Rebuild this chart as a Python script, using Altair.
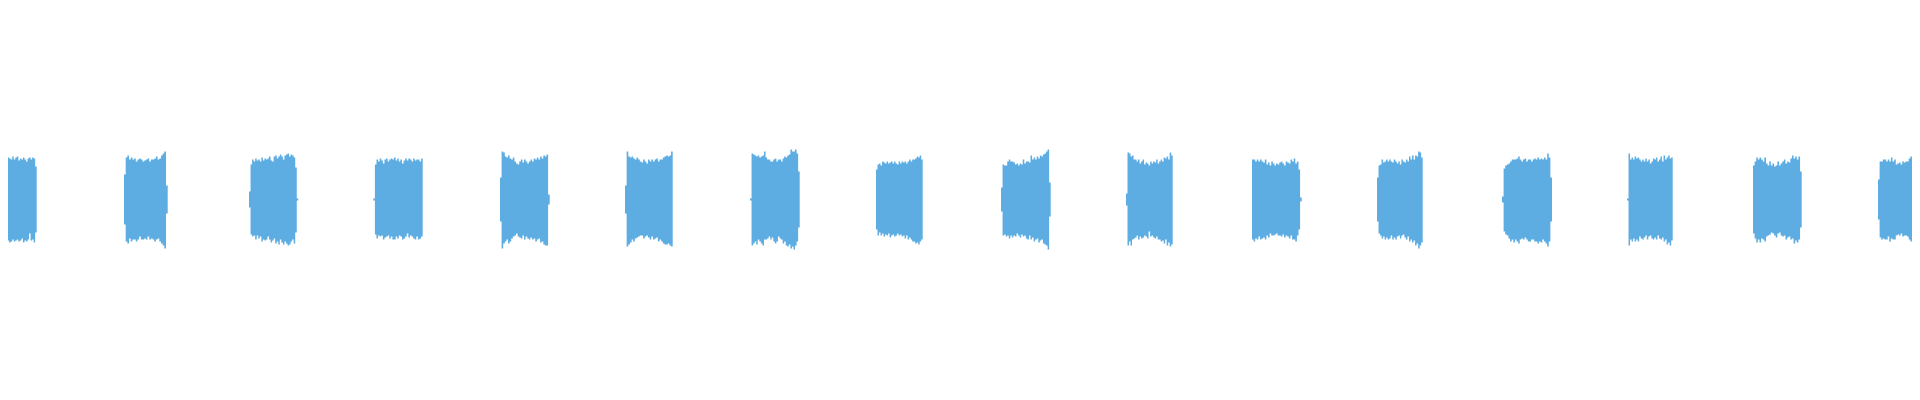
import altair as alt
import pandas as pd

# Burst start / end positions along the time axis (reference units)
starts = [0, 124, 249, 373.3, 500, 625, 750, 876, 1001, 1126, 1252, 1377, 1502, 1627, 1753, 1878]
ends = [36.7, 167.7, 298.3, 422.7, 549.7, 672.7, 799.7, 922.7, 1050.7, 1172.7, 1301.7, 1422.7, 1552, 1672.7, 1801.7, 1920]

# Upper envelope (positive peaks) per column, x0.01
top1 = [44,44,40,43,41,42,41,40,43,40,42,43,39,41,40,42,40,38,41,42,40,42,41,33]
top2 = [25,42,44,40,42,40,41,38,40,41,40,38,39,40,41,38,40,40,41,43,40,41,44,46,48,14]
top3 = [8,35,40,38,41,39,40,38,42,39,41,40,41,43,39,38,43,44,41,43,45,43,40,44,45,46,43,45,44,42,32,1]
top4 = [1,35,40,38,41,39,36,40,41,38,40,41,40,42,39,41,38,40,36,39,41,39,41,40,38,41,39,40,40,38,41]
top5 = [22,48,47,43,42,44,41,40,42,38,36,35,38,40,37,40,38,36,38,40,38,41,40,42,40,43,41,44,43,45,5]
top6 = [14,48,43,42,43,41,40,42,40,38,37,40,38,36,40,38,40,38,40,41,38,40,40,42,43,44,43,44,48]
top7 = [1,46,45,44,43,44,42,43,44,48,42,40,40,38,38,40,41,38,40,40,38,41,43,42,44,45,50,48,48,50,46,28]
top8 = [30,35,36,34,38,37,36,38,36,37,38,36,38,36,35,38,36,38,37,38,36,38,40,38,40,40,41,43,42,44,40]
top9 = [12,35,34,34,38,40,38,38,37,35,36,34,36,35,40,36,38,38,37,44,40,42,40,43,41,44,43,45,46,48,50,17]
top10 = [6,47,46,43,44,40,40,38,40,36,38,40,35,37,36,34,38,36,38,37,40,36,38,40,38,42,41,43,40,47,44]
top11 = [40,40,38,40,38,40,38,37,40,35,37,34,38,36,34,36,35,37,38,36,34,38,37,36,40,38,41,36,38,30,2]
top12 = [22,34,35,40,37,38,40,38,40,38,37,40,38,36,38,35,40,38,37,40,38,43,40,44,40,44,43,48,47,42]
top13 = [3,31,34,35,36,38,40,40,40,41,43,40,38,40,41,38,40,40,38,40,41,40,42,40,41,40,42,40,46,42,22]
top14 = [1,46,40,42,40,43,41,42,40,38,40,38,41,38,40,36,38,41,40,42,38,40,43,38,44,40,42,44,41,42]
top15 = [34,38,42,40,42,40,38,42,36,34,38,34,36,33,34,38,34,36,38,40,36,38,37,41,44,41,43,40,43,28]
top16 = [20,38,38,40,40,38,40,38,42,38,40,35,36,37,35,38,37,38,38,41,43,40,40,41,40,41]

# Lower envelope (negative peaks, magnitude) per column, x0.01
bot1 = [45,41,43,40,43,41,43,42,40,42,41,40,42,41,39,43,41,42,40,34,41,40,43,33]
bot2 = [25,42,44,39,42,40,40,42,40,37,40,40,39,40,37,40,39,40,42,40,39,42,44,46,49,14]
bot3 = [8,35,37,36,40,36,39,37,42,40,41,40,37,40,43,41,39,44,42,45,40,43,45,42,44,46,45,42,40,44,33,1]
bot4 = [1,35,39,36,37,36,40,38,37,36,39,37,40,40,37,39,36,37,40,39,37,34,38,36,37,39,40,37,40,39,37]
bot5 = [22,49,44,42,40,44,42,39,37,36,34,37,38,39,36,40,37,39,40,38,40,39,42,40,39,43,42,45,46,46,5]
bot6 = [14,47,45,43,40,42,39,38,37,36,36,39,37,36,38,40,37,40,39,38,42,40,42,44,45,45,44,46,47]
bot7 = [1,46,44,42,45,40,42,44,46,40,40,39,37,40,38,42,44,42,37,39,40,44,42,46,47,45,49,47,50,46,42,28]
bot8 = [30,36,33,36,34,37,35,36,34,38,36,35,37,36,34,36,35,37,36,39,36,40,38,40,42,42,44,43,45,42,40]
bot9 = [12,36,35,37,36,39,36,38,36,37,34,36,38,35,37,36,39,40,36,40,38,42,40,39,43,41,40,44,45,46,50,17]
bot10 = [6,46,42,46,40,39,38,36,40,37,39,38,36,37,39,32,37,36,38,39,37,40,40,42,41,44,40,46,43,47,45]
bot11 = [40,42,39,40,37,40,39,38,40,36,38,34,36,36,35,34,36,36,37,35,38,36,37,39,36,40,40,42,36,30,2]
bot12 = [22,34,36,39,37,40,38,40,39,36,40,38,40,37,36,39,36,35,38,40,37,42,40,43,41,46,44,49,46,43]
bot13 = [3,32,35,36,39,42,40,43,40,42,44,40,39,40,38,40,42,42,40,40,42,42,44,42,43,40,42,44,47,42,22]
bot14 = [1,46,40,42,39,42,40,42,37,39,40,38,36,40,37,36,39,40,38,40,36,39,40,38,42,40,45,43,46,41]
bot15 = [34,39,43,40,43,39,40,42,37,36,35,33,34,36,38,34,33,36,37,36,40,38,37,40,39,44,41,43,40,28]
bot16 = [20,38,40,39,40,40,37,42,39,40,40,36,35,36,34,37,36,36,37,40,42,40,38,40,40,42]

tops = [top1, top2, top3, top4, top5, top6, top7, top8,
        top9, top10, top11, top12, top13, top14, top15, top16]
bots = [bot1, bot2, bot3, bot4, bot5, bot6, bot7, bot8,
        bot9, bot10, bot11, bot12, bot13, bot14, bot15, bot16]

rows = []
for b, (s, e, tp, bt) in enumerate(zip(starts, ends, tops, bots)):
    n = len(tp)
    w = (e - s) / n
    for i in range(n):
        rows.append({"burst": b, "t": s + i * w, "hi": tp[i] / 100, "lo": -bt[i] / 100})
    rows.append({"burst": b, "t": e, "hi": tp[-1] / 100, "lo": -bt[-1] / 100})
df = pd.DataFrame(rows)

chart = alt.Chart(df).mark_area(
    interpolate="step-after", color="#5DADE2", clip=True, opacity=1
).encode(
    x=alt.X("t:Q", scale=alt.Scale(domain=[8, 1912], nice=False, zero=False), axis=None),
    y=alt.Y("hi:Q", scale=alt.Scale(domain=[-1.925, 1.915], nice=False, zero=False), axis=None),
    y2="lo:Q",
    detail="burst:N",
).properties(
    width=1904, height=384, padding=0
).configure_view(stroke=None)

chart.save("out.html", embed_options={"renderer": "svg", "actions": False})
